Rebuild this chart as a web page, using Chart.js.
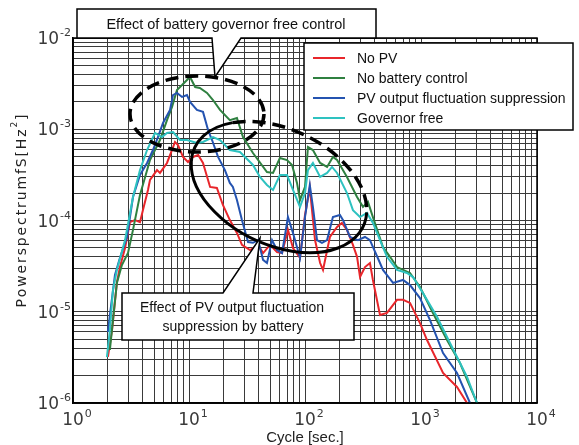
<!DOCTYPE html>
<html>
<head>
<meta charset="utf-8">
<script src="https://cdn.jsdelivr.net/npm/chart.js@4.4.1/dist/chart.umd.min.js"></script>
<style>
  html, body { margin: 0; padding: 0; background: #fff; }
  canvas { display: block; }
</style>
</head>
<body>
<canvas id="psdChart" width="579" height="445"></canvas>
<script>
// values: cycle [sec.] vs power spectrum [Hz^2]
const noPvCycle = [2.00, 2.17, 2.39, 2.54, 2.81, 3.10, 3.42, 3.78, 4.01, 4.43, 4.61, 5.30, 5.62, 6.46, 7.13, 7.57, 8.04, 8.88, 9.80, 10.8, 12.0, 13.2, 15.2, 17.4, 19.6, 22.5, 25.9, 28.6, 33.6, 39.4, 43.5, 49.9, 57.4, 63.4, 71.3, 78.8, 90.6, 100, 110, 122, 135, 143, 164, 189, 208, 230, 259, 281, 298, 329, 363, 385, 443, 509, 621, 700, 804, 980, 1127, 1549, 2043, 2494, 2900];
const noPvPower = [3.2e-6, 6.3e-6, 2.1e-5, 3.1e-5, 5.0e-5, 9.6e-5, 1.01e-4, 9.6e-5, 1.3e-4, 2.16e-4, 2.78e-4, 3.57e-4, 3.32e-4, 4.27e-4, 5.92e-4, 7.25e-4, 6.72e-4, 4.97e-4, 4.38e-4, 4.97e-4, 5.22e-4, 4.27e-4, 2.33e-4, 2.27e-4, 1.48e-4, 1.01e-4, 7.3e-5, 5.4e-5, 4.75e-5, 5.4e-5, 4.4e-5, 5.4e-5, 4.5e-5, 4.4e-5, 7.9e-5, 5.0e-5, 3.9e-5, 1.15e-4, 2.27e-4, 6.1e-5, 3.42e-5, 2.87e-5, 6.6e-5, 8.5e-5, 9.4e-5, 7.9e-5, 5.4e-5, 4.0e-5, 2.4e-5, 3.09e-5, 3.42e-5, 2.23e-5, 9.2e-6, 9.7e-6, 1.35e-5, 1.35e-5, 1.25e-5, 7.5e-6, 4.9e-6, 2.13e-6, 1.5e-6, 1.0e-6, 8e-7];

const noBatteryCycle = [2.08, 2.21, 2.39, 2.64, 2.98, 3.29, 3.56, 3.78, 4.61, 5.62, 6.46, 7.13, 7.88, 8.71, 9.61, 10.2, 11.3, 12.4, 14.3, 16.1, 18.5, 22.5, 25.9, 29.2, 35.6, 47.0, 53.0, 60.8, 70.0, 77.3, 85.3, 90.6, 100, 106, 117, 135, 155, 174, 189, 230, 281, 316, 349, 385, 470, 541, 621, 804, 980, 1268, 1676, 2168, 3040, 3350];
const noBatteryPower = [3.81e-6, 8.1e-6, 2.07e-5, 3.25e-5, 4.4e-5, 7.9e-5, 1.3e-4, 1.9e-4, 4.6e-4, 7.62e-4, 1.26e-3, 1.75e-3, 2.69e-3, 3.05e-3, 3.47e-3, 3.74e-3, 2.9e-3, 2.83e-3, 2.5e-3, 2.09e-3, 1.63e-3, 1.26e-3, 1.33e-3, 8.22e-4, 5.49e-4, 3.4e-4, 3.32e-4, 4.84e-4, 4.6e-4, 4.06e-4, 2.58e-4, 1.68e-4, 2.33e-4, 6.38e-4, 5.92e-4, 4.27e-4, 3.86e-4, 4.97e-4, 4.6e-4, 3.0e-4, 1.81e-4, 1.41e-4, 1.6e-4, 1.09e-4, 5.1e-5, 4.0e-5, 3.09e-5, 2.66e-5, 1.87e-5, 9.7e-6, 4.9e-6, 2.74e-6, 1.0e-6, 8e-7];

const suppressionCycle = [2.00, 2.08, 2.30, 2.54, 2.92, 3.29, 3.78, 4.35, 4.89, 5.40, 5.97, 6.86, 7.28, 7.88, 8.71, 9.61, 10.2, 11.7, 13.2, 14.6, 15.8, 17.8, 20.4, 22.5, 23.9, 25.9, 28.6, 32.3, 35.6, 39.4, 43.5, 47.0, 52.0, 57.4, 63.4, 71.3, 78.8, 90.6, 100, 110, 117, 127, 140, 155, 174, 200, 213, 244, 286, 329, 363, 443, 470, 574, 700, 804, 980, 1196, 1549, 2043, 2644, 3100];
const suppressionPower = [6.0e-6, 9.2e-6, 2.53e-5, 3.9e-5, 6.6e-5, 1.81e-4, 3.15e-4, 4.27e-4, 5.92e-4, 8.22e-4, 1.17e-3, 1.63e-3, 2.37e-3, 2.5e-3, 2.26e-3, 2.37e-3, 1.99e-3, 1.63e-3, 1.55e-3, 9.8e-4, 7.62e-4, 4.97e-4, 3.57e-4, 2.58e-4, 2.33e-4, 1.68e-4, 1.01e-4, 5.8e-5, 5.7e-5, 6.1e-5, 3.7e-5, 3.42e-5, 6.1e-5, 4.75e-5, 4.4e-5, 1.09e-4, 7.3e-5, 3.9e-5, 1.09e-4, 2.45e-4, 1.41e-4, 6.1e-5, 5.7e-5, 6.1e-5, 1.09e-4, 1.15e-4, 1.01e-4, 6.6e-5, 6.1e-5, 6.6e-5, 6.1e-5, 3.42e-5, 2.87e-5, 2.07e-5, 2.23e-5, 1.96e-5, 1.41e-5, 8.1e-6, 3.53e-6, 2.13e-6, 1.0e-6, 7.5e-7];

const governorCycle = [1.96, 2.08, 2.21, 2.39, 2.81, 3.29, 3.78, 4.35, 5.09, 5.85, 6.46, 7.28, 8.36, 9.61, 11.7, 13.2, 16.1, 18.5, 22.5, 27.5, 35.6, 40.9, 47.0, 53.0, 60.8, 70.0, 78.8, 90.6, 100, 106, 117, 135, 155, 171, 189, 230, 259, 298, 342, 385, 443, 509, 621, 757, 853, 1040, 1374, 1778, 2494, 3040, 3350];
const governorPower = [3.19e-6, 6.3e-6, 1.73e-5, 2.87e-5, 6.1e-5, 1.81e-4, 3.57e-4, 5.92e-4, 9.1e-4, 8.22e-4, 9.1e-4, 9.33e-4, 7.62e-4, 7.62e-4, 7.07e-4, 7.25e-4, 8.22e-4, 7.62e-4, 5.92e-4, 5.63e-4, 4.06e-4, 3.0e-4, 2.45e-4, 2.16e-4, 3.15e-4, 3.15e-4, 2.16e-4, 1.41e-4, 2.0e-4, 3.57e-4, 4.27e-4, 3.0e-4, 3.32e-4, 3.86e-4, 3.32e-4, 2.0e-4, 1.3e-4, 1.09e-4, 1.21e-4, 9.4e-5, 6.1e-5, 4.0e-5, 2.87e-5, 2.66e-5, 2.4e-5, 1.6e-5, 8.8e-6, 4.55e-6, 1.93e-6, 1.0e-6, 8e-7];

const seriesNames = ['No PV', 'No battery control', 'PV output fluctuation suppression', 'Governor free'];
const seriesColors = ['#e8262b', '#2f8040', '#2453b0', '#2ec2c0'];

// tick labels are powers of ten
const xDecades = [0, 1, 2, 3, 4];
const yDecades = [-6, -5, -4, -3, -2];
const gridMultiples = [1, 2, 3, 4, 5, 6, 7, 8, 9];

const callout1 = 'Effect of battery governor free control';
const callout2 = ['Effect of PV output fluctuation', 'suppression by battery'];

function toPoints(xs, ys) {
    return xs.map((x, i) => ({ x: x, y: ys[i] }));
}

const seriesData = [
    toPoints(noPvCycle, noPvPower),
    toPoints(noBatteryCycle, noBatteryPower),
    toPoints(suppressionCycle, suppressionPower),
    toPoints(governorCycle, governorPower)
];

// first dataset ends up on top, so feed them in reverse
const datasets = seriesData.map((pts, i) => ({
    label: seriesNames[i],
    data: pts,
    borderColor: seriesColors[i],
    borderWidth: 2,
    pointRadius: 0,
    tension: 0,
    fill: false
})).reverse();

function decadeTicks(decades) {
    const out = [];
    for (let d = 0; d < decades.length; d++) {
        const base = Math.pow(10, decades[d]);
        if (d === decades.length - 1) {
            out.push({ value: base });
        } else {
            gridMultiples.forEach(m => out.push({ value: m * base }));
        }
    }
    return out;
}

function drawPower(ctx, exp, x, y, axis) {
    ctx.fillStyle = '#3a3a3a';
    ctx.textBaseline = 'alphabetic';
    ctx.textAlign = 'left';
    ctx.font = '17px "DejaVu Sans"';
    const bw = ctx.measureText('10').width;
    ctx.font = '11px "DejaVu Sans"';
    const sup = String(exp);
    const sw = ctx.measureText(sup).width;
    let left;
    if (axis === 'x') left = x - bw / 2;
    else left = x - bw - 1 - sw;
    ctx.font = '17px "DejaVu Sans"';
    ctx.fillText('10', left, y);
    ctx.font = '11px "DejaVu Sans"';
    ctx.fillText(sup, left + bw + 1, y - 8);
}

function drawCallout(ctx, path) {
    ctx.beginPath();
    ctx.moveTo(path[0][0], path[0][1]);
    for (let i = 1; i < path.length; i++) ctx.lineTo(path[i][0], path[i][1]);
    ctx.closePath();
    ctx.fillStyle = '#fff';
    ctx.fill();
    ctx.strokeStyle = '#000';
    ctx.lineWidth = 1.5;
    ctx.setLineDash([]);
    ctx.stroke();
}

const decorations = {
    id: 'decorations',
    afterDraw(chart) {
        const ctx = chart.ctx;
        const a = chart.chartArea;
        const xs = chart.scales.x;
        const ys = chart.scales.y;
        ctx.save();

        // plot frame
        ctx.strokeStyle = '#000';
        ctx.lineWidth = 1.5;
        ctx.strokeRect(a.left, a.top, a.right - a.left, a.bottom - a.top);

        // ellipse around the governor free effect
        ctx.lineWidth = 3.5;
        ctx.setLineDash([13, 7]);
        ctx.beginPath();
        ctx.ellipse(197, 114, 67, 38, 0, 0, Math.PI * 2);
        ctx.stroke();

        // tilted ellipse around the PV suppression effect: solid lower part, dashed upper part
        const rot = 25 * Math.PI / 180;
        const t1 = -138 * Math.PI / 180;
        const t2 = -14 * Math.PI / 180;
        ctx.setLineDash([]);
        ctx.lineWidth = 3;
        ctx.beginPath();
        ctx.ellipse(279, 187, 93, 58, rot, t2, t1 + Math.PI * 2);
        ctx.stroke();
        ctx.setLineDash([13, 7]);
        ctx.lineWidth = 3.5;
        ctx.beginPath();
        ctx.ellipse(279, 187, 93, 58, rot, t1, t2);
        ctx.stroke();
        ctx.setLineDash([]);

        // callout boxes
        drawCallout(ctx, [[77, 9], [376, 9], [376, 38], [241, 38], [215, 77], [212, 38], [77, 38]]);
        drawCallout(ctx, [[122, 293], [223, 293], [260, 238], [253, 293], [354, 293], [354, 340], [122, 340]]);
        ctx.fillStyle = '#111';
        ctx.font = '14.5px "Liberation Sans", Arial, sans-serif';
        ctx.textAlign = 'center';
        ctx.textBaseline = 'alphabetic';
        ctx.fillText(callout1, 226, 29);
        ctx.font = '14px "Liberation Sans", Arial, sans-serif';
        ctx.fillText(callout2[0], 232, 312);
        ctx.fillText(callout2[1], 233, 331);

        // legend box
        ctx.fillStyle = '#fff';
        ctx.fillRect(304, 43, 269, 87);
        ctx.strokeStyle = '#000';
        ctx.lineWidth = 1.5;
        ctx.strokeRect(304, 43, 269, 87);
        ctx.font = '14px "Liberation Sans", Arial, sans-serif';
        ctx.textAlign = 'left';
        ctx.textBaseline = 'middle';
        seriesNames.forEach((name, i) => {
            const y = 58 + i * 20;
            ctx.strokeStyle = seriesColors[i];
            ctx.lineWidth = 2;
            ctx.beginPath();
            ctx.moveTo(313, y);
            ctx.lineTo(345, y);
            ctx.stroke();
            ctx.fillStyle = '#111';
            ctx.fillText(name, 357, y + 1);
        });

        // tick labels
        xDecades.forEach(e => drawPower(ctx, e, xs.getPixelForValue(Math.pow(10, e)), 425, 'x'));
        yDecades.forEach(e => drawPower(ctx, e, 71, ys.getPixelForValue(Math.pow(10, e)) + 6, 'y'));

        // x title
        ctx.fillStyle = '#222';
        ctx.font = '15px "Liberation Sans", Arial, sans-serif';
        ctx.textAlign = 'center';
        ctx.textBaseline = 'alphabetic';
        ctx.fillText('Cycle [sec.]', (a.left + a.right) / 2, 442);

        // y title, letter spaced, with superscript
        ctx.translate(22, 211);
        ctx.rotate(-Math.PI / 2);
        const mainFont = '14px "DejaVu Sans"';
        const supFont = '9px "DejaVu Sans"';
        const chars = [];
        'PowerspectrumfS[Hz'.split('').forEach(c => chars.push({ c: c, f: mainFont, dy: 0 }));
        chars.push({ c: '2', f: supFont, dy: -7 });
        chars.push({ c: ']', f: mainFont, dy: 0 });
        let natural = 0;
        chars.forEach(ch => { ctx.font = ch.f; ch.w = ctx.measureText(ch.c).width; natural += ch.w; });
        const target = 193;
        const gap = (target - natural) / (chars.length - 1);
        let cx = -target / 2;
        ctx.textAlign = 'left';
        ctx.textBaseline = 'middle';
        chars.forEach(ch => {
            ctx.font = ch.f;
            ctx.fillText(ch.c, cx, ch.dy);
            cx += ch.w + gap;
        });

        ctx.restore();
    }
};

const ctx = document.getElementById('psdChart').getContext('2d');
new Chart(ctx, {
    type: 'line',
    data: { datasets: datasets },
    options: {
        responsive: false,
        animation: false,
        layout: { padding: { top: 38, right: 42, left: 0, bottom: 0 } },
        plugins: {
            legend: { display: false },
            tooltip: { enabled: false },
            title: { display: false }
        },
        scales: {
            x: {
                type: 'logarithmic',
                min: 1,
                max: 10000,
                afterBuildTicks: scale => { scale.ticks = decadeTicks(xDecades); },
                afterFit: scale => { scale.height = 42; },
                ticks: { display: false, autoSkip: false },
                grid: { color: '#3a3a3a', lineWidth: 1, drawTicks: false },
                border: { display: true, color: '#000', width: 1.5 }
            },
            y: {
                type: 'logarithmic',
                min: 1e-6,
                max: 1e-2,
                afterBuildTicks: scale => { scale.ticks = decadeTicks(yDecades); },
                afterFit: scale => { scale.width = 73; },
                ticks: { display: false, autoSkip: false },
                grid: { color: '#3a3a3a', lineWidth: 1, drawTicks: false },
                border: { display: true, color: '#000', width: 1.5 }
            }
        }
    },
    plugins: [decorations]
});
</script>
</body>
</html>
